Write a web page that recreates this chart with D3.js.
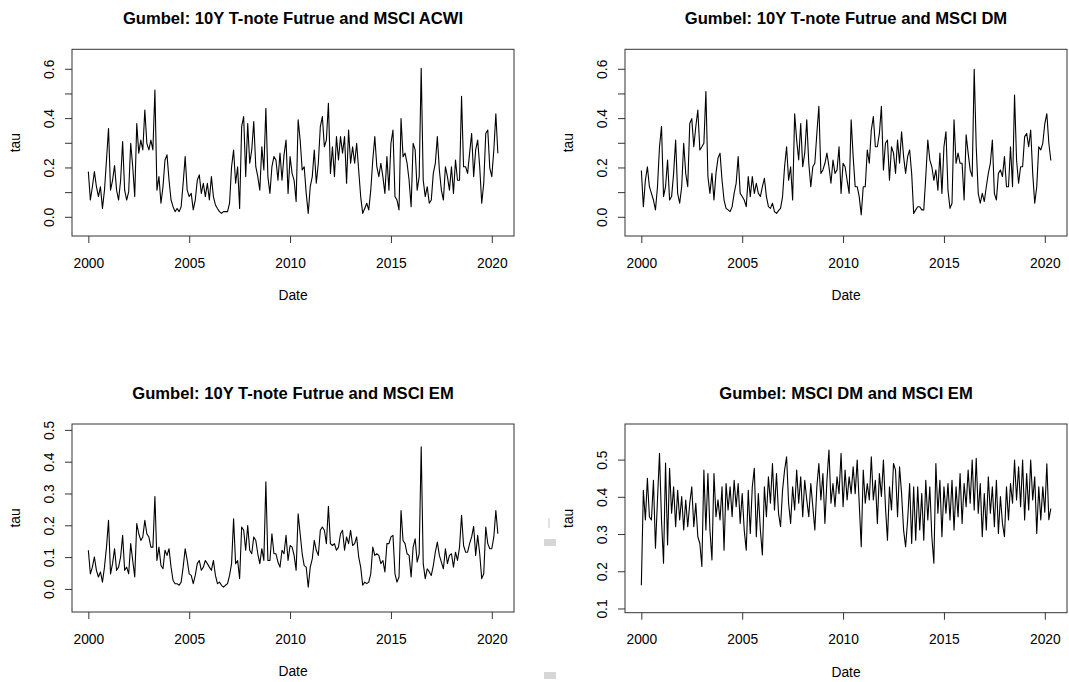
<!DOCTYPE html>
<html>
<head>
<meta charset="utf-8">
<script src="https://cdn.jsdelivr.net/npm/d3@7"></script>
<style>
  body { margin: 0; background: #fff; }
  text { font-family: "Liberation Sans", Arial, Helvetica, sans-serif; fill: #000; }
</style>
</head>
<body>
<div id="chart"></div>
<script>
// weekly tau estimates, sampled every 0.1 year from 2000.0 to 2020.3
var startYear = 2000, stepYear = 0.1;

var titles = [
  "Gumbel: 10Y T-note Futrue and MSCI ACWI",
  "Gumbel: 10Y T-note Futrue and MSCI DM",
  "Gumbel: 10Y T-note Futrue and MSCI EM",
  "Gumbel: MSCI DM and MSCI EM"
];

var xTicks = [2000, 2005, 2010, 2015, 2020];
var yTicksTop = [0, 0.1, 0.2, 0.3, 0.4, 0.5, 0.6];
var yLabelsTop = [0, 0.2, 0.4, 0.6];
var yTicksEM = [0, 0.1, 0.2, 0.3, 0.4, 0.5];
var yTicksDMEM = [0.1, 0.2, 0.3, 0.4, 0.5];

var tauACWI = [0.185,0.07,0.124,0.185,0.124,0.084,0.124,0.036,0.11,0.232,
  0.36,0.11,0.15,0.21,0.11,0.07,0.15,0.307,0.11,0.07,
  0.104,0.30,0.205,0.084,0.38,0.26,0.313,0.273,0.435,0.30,
  0.273,0.313,0.273,0.516,0.11,0.165,0.057,0.124,0.232,0.253,
  0.15,0.07,0.043,0.023,0.036,0.023,0.043,0.138,0.246,0.11,
  0.084,0.097,0.03,0.07,0.15,0.172,0.097,0.138,0.084,0.138,
  0.07,0.165,0.084,0.05,0.036,0.023,0.016,0.023,0.023,0.023,
  0.057,0.205,0.273,0.138,0.205,0.036,0.368,0.408,0.165,0.38,
  0.219,0.273,0.388,0.205,0.165,0.11,0.286,0.192,0.442,0.165,
  0.097,0.205,0.246,0.232,0.15,0.26,0.15,0.253,0.313,0.097,
  0.246,0.178,0.15,0.064,0.395,0.313,0.192,0.205,0.097,0.016,
  0.124,0.165,0.273,0.138,0.219,0.368,0.408,0.286,0.313,0.462,
  0.178,0.286,0.165,0.327,0.232,0.327,0.26,0.327,0.138,0.354,
  0.219,0.286,0.219,0.30,0.192,0.084,0.016,0.036,0.057,0.03,
  0.11,0.232,0.327,0.205,0.165,0.219,0.165,0.097,0.246,0.11,
  0.30,0.354,0.084,0.07,0.03,0.40,0.246,0.26,0.219,0.15,
  0.043,0.30,0.273,0.11,0.165,0.604,0.15,0.084,0.124,0.057,
  0.07,0.178,0.219,0.327,0.192,0.11,0.07,0.205,0.165,0.11,
  0.205,0.097,0.232,0.15,0.15,0.49,0.205,0.205,0.178,0.26,
  0.34,0.165,0.273,0.313,0.205,0.057,0.138,0.34,0.354,0.199,
  0.165,0.273,0.42,0.26];

var tauDM = [0.19,0.043,0.15,0.205,0.124,0.097,0.07,0.03,0.124,0.286,
  0.368,0.084,0.124,0.232,0.07,0.084,0.178,0.313,0.097,0.057,
  0.124,0.30,0.178,0.124,0.38,0.40,0.286,0.368,0.435,0.273,
  0.286,0.30,0.51,0.165,0.097,0.178,0.07,0.178,0.24,0.26,
  0.15,0.07,0.036,0.03,0.023,0.043,0.097,0.138,0.246,0.097,
  0.084,0.07,0.043,0.165,0.084,0.165,0.097,0.138,0.097,0.084,
  0.124,0.158,0.084,0.043,0.036,0.057,0.023,0.016,0.027,0.036,
  0.084,0.205,0.286,0.15,0.205,0.07,0.42,0.313,0.232,0.38,
  0.205,0.26,0.395,0.219,0.124,0.205,0.219,0.34,0.45,0.178,
  0.192,0.219,0.26,0.205,0.138,0.232,0.178,0.192,0.286,0.097,
  0.219,0.205,0.15,0.097,0.395,0.246,0.124,0.124,0.084,0.01,
  0.124,0.124,0.273,0.219,0.354,0.408,0.286,0.286,0.34,0.45,
  0.192,0.30,0.313,0.15,0.286,0.26,0.178,0.313,0.219,0.347,
  0.246,0.178,0.246,0.273,0.178,0.016,0.03,0.043,0.043,0.03,
  0.03,0.165,0.313,0.232,0.205,0.15,0.192,0.11,0.26,0.097,
  0.286,0.347,0.11,0.036,0.057,0.395,0.219,0.26,0.219,0.219,
  0.07,0.334,0.26,0.192,0.165,0.60,0.286,0.097,0.057,0.097,
  0.064,0.124,0.178,0.219,0.313,0.097,0.07,0.178,0.192,0.165,
  0.246,0.124,0.124,0.286,0.124,0.496,0.232,0.138,0.205,0.205,
  0.327,0.34,0.286,0.354,0.178,0.057,0.124,0.286,0.273,0.30,
  0.38,0.42,0.30,0.23];

var tauEM = [0.123,0.049,0.07,0.102,0.06,0.039,0.055,0.023,0.07,0.133,
  0.217,0.049,0.081,0.128,0.06,0.07,0.102,0.17,0.06,0.07,
  0.049,0.144,0.091,0.039,0.207,0.175,0.154,0.165,0.217,0.175,
  0.165,0.133,0.133,0.292,0.091,0.133,0.075,0.065,0.123,0.107,
  0.128,0.07,0.028,0.018,0.018,0.013,0.023,0.07,0.128,0.091,
  0.049,0.044,0.018,0.044,0.081,0.091,0.06,0.07,0.091,0.081,
  0.07,0.06,0.091,0.044,0.018,0.023,0.013,0.007,0.013,0.018,
  0.044,0.081,0.222,0.081,0.091,0.034,0.196,0.186,0.123,0.201,
  0.123,0.112,0.165,0.154,0.112,0.081,0.128,0.091,0.338,0.091,
  0.091,0.175,0.112,0.112,0.086,0.07,0.123,0.112,0.17,0.091,
  0.138,0.133,0.107,0.06,0.238,0.175,0.112,0.075,0.07,0.007,
  0.07,0.096,0.154,0.123,0.107,0.186,0.196,0.186,0.144,0.261,
  0.144,0.138,0.144,0.123,0.133,0.175,0.186,0.123,0.165,0.144,
  0.186,0.138,0.144,0.165,0.102,0.07,0.013,0.023,0.018,0.023,
  0.049,0.133,0.107,0.112,0.107,0.081,0.091,0.055,0.144,0.144,
  0.165,0.17,0.049,0.023,0.039,0.248,0.154,0.144,0.112,0.107,
  0.039,0.133,0.159,0.086,0.112,0.448,0.081,0.034,0.065,0.055,
  0.044,0.075,0.117,0.149,0.107,0.086,0.065,0.128,0.081,0.107,
  0.112,0.07,0.117,0.091,0.133,0.233,0.138,0.117,0.117,0.144,
  0.165,0.198,0.107,0.17,0.112,0.034,0.049,0.196,0.144,0.128,
  0.128,0.165,0.248,0.175];

var tauDMEM = [0.164,0.419,0.339,0.451,0.348,0.339,0.446,0.263,0.393,0.518,
  0.339,0.223,0.492,0.272,0.478,0.357,0.428,0.321,0.419,0.339,
  0.402,0.312,0.393,0.321,0.384,0.428,0.321,0.384,0.294,0.276,
  0.214,0.473,0.312,0.464,0.312,0.232,0.464,0.348,0.393,0.339,
  0.428,0.258,0.437,0.366,0.428,0.348,0.446,0.375,0.437,0.33,
  0.41,0.312,0.258,0.419,0.303,0.428,0.478,0.294,0.41,0.312,
  0.245,0.428,0.348,0.455,0.384,0.491,0.366,0.464,0.357,0.321,
  0.419,0.473,0.509,0.384,0.33,0.428,0.366,0.473,0.384,0.455,
  0.348,0.446,0.393,0.348,0.437,0.375,0.312,0.428,0.491,0.393,
  0.464,0.33,0.446,0.527,0.384,0.437,0.375,0.455,0.41,0.518,
  0.375,0.473,0.393,0.455,0.41,0.482,0.41,0.50,0.384,0.267,
  0.473,0.384,0.437,0.393,0.509,0.393,0.446,0.33,0.464,0.402,
  0.50,0.375,0.285,0.428,0.366,0.491,0.473,0.348,0.482,0.41,
  0.312,0.267,0.339,0.437,0.276,0.428,0.285,0.428,0.312,0.41,
  0.285,0.446,0.339,0.428,0.294,0.223,0.491,0.357,0.446,0.294,
  0.428,0.357,0.437,0.339,0.446,0.312,0.428,0.348,0.464,0.33,
  0.437,0.375,0.473,0.384,0.50,0.366,0.505,0.357,0.437,0.294,
  0.41,0.312,0.455,0.357,0.428,0.321,0.446,0.303,0.402,0.33,
  0.294,0.428,0.339,0.437,0.384,0.50,0.393,0.482,0.375,0.50,
  0.339,0.464,0.366,0.50,0.393,0.455,0.303,0.428,0.339,0.428,
  0.36,0.49,0.34,0.37];

var W = 1069, H = 682;
var baseFont = 13.8, titleFont = 16.6;

var svg = d3.select("#chart")
  .append("svg")
  .attr("width", W)
  .attr("height", H);

// panel layout (pixel boxes)
var panels = [
  { title: titles[0], values: tauACWI, box: { l: 72, t: 49.3, r: 514, b: 236 },
    yDom: [-0.0758, 0.681], yTicks: yTicksTop, yLabels: yLabelsTop },
  { title: titles[1], values: tauDM, box: { l: 625, t: 49.3, r: 1067, b: 236 },
    yDom: [-0.0758, 0.681], yTicks: yTicksTop, yLabels: yLabelsTop },
  { title: titles[2], values: tauEM, box: { l: 72, t: 424, r: 514, b: 612 },
    yDom: [-0.071, 0.52], yTicks: yTicksEM, yLabels: yTicksEM },
  { title: titles[3], values: tauDMEM, box: { l: 625, t: 424, r: 1067, b: 612.7 },
    yDom: [0.09, 0.597], yTicks: yTicksDMEM, yLabels: yTicksDMEM }
];

var fmtY = d3.format(".1f");

panels.forEach(function (p) {
  var b = p.box;
  var g = svg.append("g");

  var x = d3.scaleLinear()
    .domain([1999.19, 2021.1])
    .range([b.l, b.r]);
  var y = d3.scaleLinear()
    .domain(p.yDom)
    .range([b.b, b.t]);

  // the series
  var line = d3.line()
    .x(function (d, i) { return x(startYear + i * stepYear); })
    .y(function (d) { return y(d); });

  g.append("path")
    .datum(p.values)
    .attr("d", line)
    .attr("fill", "none")
    .attr("stroke", "#000")
    .attr("stroke-width", 1.1)
    .attr("stroke-linejoin", "round");

  // box
  g.append("rect")
    .attr("x", b.l)
    .attr("y", b.t)
    .attr("width", b.r - b.l)
    .attr("height", b.b - b.t)
    .attr("fill", "none")
    .attr("stroke", "#333")
    .attr("stroke-width", 1);

  // x axis
  var xAxis = g.append("g")
    .attr("transform", "translate(0," + b.b + ")")
    .call(d3.axisBottom(x)
      .tickValues(xTicks)
      .tickSize(7)
      .tickSizeOuter(0)
      .tickPadding(15)
      .tickFormat(d3.format("d")));
  xAxis.select(".domain").remove();
  xAxis.selectAll("line").attr("stroke", "#333");
  xAxis.selectAll("text")
    .attr("font-size", baseFont)
    .attr("font-family", "Liberation Sans, Arial, sans-serif")
    .attr("fill", "#000");

  // y axis ticks
  g.selectAll(".ytick")
    .data(p.yTicks)
    .enter()
    .append("line")
    .attr("x1", b.l - 7)
    .attr("x2", b.l)
    .attr("y1", function (d) { return y(d); })
    .attr("y2", function (d) { return y(d); })
    .attr("stroke", "#333");

  // y tick labels (parallel to axis, like R)
  g.selectAll(".ylab")
    .data(p.yLabels)
    .enter()
    .append("text")
    .attr("transform", function (d) {
      return "translate(" + (b.l - 18) + "," + y(d) + ") rotate(-90)";
    })
    .attr("text-anchor", "middle")
    .attr("font-size", baseFont)
    .text(function (d) { return fmtY(d); });

  // title
  g.append("text")
    .attr("x", (b.l + b.r) / 2)
    .attr("y", b.t - 25)
    .attr("text-anchor", "middle")
    .attr("font-size", titleFont)
    .attr("font-weight", "bold")
    .text(p.title);

  // axis titles
  g.append("text")
    .attr("x", (b.l + b.r) / 2)
    .attr("y", b.b + 64)
    .attr("text-anchor", "middle")
    .attr("font-size", baseFont)
    .text("Date");

  g.append("text")
    .attr("transform", "translate(" + (b.l - 52) + "," + ((b.t + b.b) / 2) + ") rotate(-90)")
    .attr("text-anchor", "middle")
    .attr("font-size", baseFont)
    .text("tau");
});

// faint grey leftovers seen between the lower panels
svg.append("rect").attr("x", 548).attr("y", 518).attr("width", 2).attr("height", 10).attr("fill", "#e2e2e2");
svg.append("rect").attr("x", 544).attr("y", 539).attr("width", 12).attr("height", 7).attr("fill", "#d6d6d6");
svg.append("rect").attr("x", 544).attr("y", 672).attr("width", 12).attr("height", 7).attr("fill", "#d6d6d6");
</script>
</body>
</html>
